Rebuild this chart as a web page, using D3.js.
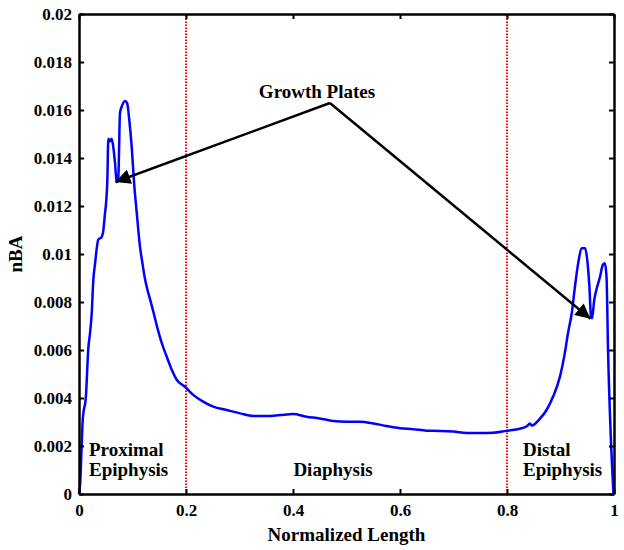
<!DOCTYPE html>
<html>
<head>
<meta charset="utf-8">
<script src="https://cdn.jsdelivr.net/npm/d3@7"></script>
<style>
  body { margin: 0; background: #fff; }
  svg { display: block; }
  text { font-family: "Liberation Serif", "Times New Roman", serif; font-weight: bold; fill: #000; }
</style>
</head>
<body>
<svg id="chart" width="624" height="550"></svg>
<script>
// ---- data ----
const xValues = [0, 0.002, 0.007, 0.013, 0.0175, 0.0206, 0.0237, 0.0267, 0.030, 0.033, 0.036, 0.042, 0.045, 0.0486, 0.0505, 0.053, 0.0548, 0.058, 0.061, 0.064, 0.0673, 0.0704, 0.0735, 0.0766, 0.0798, 0.086, 0.090, 0.094, 0.0985, 0.103, 0.108, 0.114, 0.118, 0.123, 0.128, 0.133, 0.140, 0.148, 0.156, 0.164, 0.173, 0.183, 0.198, 0.214, 0.232, 0.251, 0.276, 0.301, 0.326, 0.351, 0.376, 0.400, 0.425, 0.450, 0.475, 0.500, 0.525, 0.550, 0.575, 0.600, 0.625, 0.650, 0.675, 0.700, 0.725, 0.750, 0.774, 0.799, 0.824, 0.837, 0.843, 0.846, 0.862, 0.874, 0.886, 0.899, 0.908, 0.914, 0.921, 0.927, 0.933, 0.940, 0.946, 0.950, 0.954, 0.957, 0.959, 0.963, 0.967, 0.974, 0.979, 0.983, 0.986, 0.989, 0.994, 0.999];
const nbaValues = [0, 0.0004, 0.0031, 0.0041, 0.0061, 0.0067, 0.0075, 0.0089, 0.0096, 0.0102, 0.0106, 0.0107, 0.0109, 0.0117, 0.0121, 0.0131, 0.0148, 0.0147, 0.0148, 0.01447, 0.0138, 0.0130, 0.0132, 0.01587, 0.01614, 0.01638, 0.01628, 0.01558, 0.01447, 0.01295, 0.0117, 0.0103, 0.0097, 0.0090, 0.0085, 0.0081, 0.0075, 0.0068, 0.0062, 0.00572, 0.0052, 0.00475, 0.00447, 0.00412, 0.00385, 0.00364, 0.0035, 0.00336, 0.00325, 0.00325, 0.00329, 0.00333, 0.00322, 0.00315, 0.00304, 0.00301, 0.00301, 0.00294, 0.00283, 0.00274, 0.0027, 0.00264, 0.00263, 0.0026, 0.00254, 0.00254, 0.00255, 0.00263, 0.00272, 0.00282, 0.00294, 0.00285, 0.00315, 0.0035, 0.00405, 0.00489, 0.00586, 0.0067, 0.00753, 0.00864, 0.00961, 0.01024, 0.01024, 0.00975, 0.00864, 0.00739, 0.00732, 0.00808, 0.0085, 0.00906, 0.00954, 0.00961, 0.00906, 0.00586, 0.00239, 0.00003];
const xTicks = [0, 0.2, 0.4, 0.6, 0.8, 1];
const yTicks = [0, 0.002, 0.004, 0.006, 0.008, 0.01, 0.012, 0.014, 0.016, 0.018, 0.02];
const regionBounds = [0.2, 0.8];
const arrowFrom = [0.469, 0.01629];
const arrowTargets = [[0.068, 0.0130], [0.956, 0.0073]];

// ---- layout ----
const svg = d3.select("#chart");
const m = { left: 79, right: 10, top: 14, bottom: 56 };
const W = 624, H = 550;
const x = d3.scaleLinear().domain([0, 1]).range([m.left, W - m.right]);
const y = d3.scaleLinear().domain([0, 0.02]).range([H - m.bottom, m.top]);

const fmt = d => d === 0 ? "0" : String(+d.toFixed(4));

// red dotted region boundaries
svg.selectAll(".bound").data(regionBounds).enter().append("line")
  .attr("x1", d => x(d)).attr("x2", d => x(d))
  .attr("y1", y(0)).attr("y2", y(0.02))
  .attr("stroke", "#ff0000").attr("stroke-width", 2)
  .attr("stroke-dasharray", "1.5,1.5");

// curve
const pts = xValues.map((v, i) => [v, nbaValues[i]]);
svg.append("path").datum(pts)
  .attr("fill", "none").attr("stroke", "#0000ff").attr("stroke-width", 2.5)
  .attr("stroke-linejoin", "round")
  .attr("d", d3.line().x(d => x(d[0])).y(d => y(d[1])).curve(d3.curveMonotoneX));

// axes (box with inward ticks)
const axB = svg.append("g").attr("transform", `translate(0,${y(0)})`)
  .call(d3.axisBottom(x).tickValues(xTicks).tickFormat(fmt).tickSizeInner(-5).tickSizeOuter(0).tickPadding(10));
const axT = svg.append("g").attr("transform", `translate(0,${y(0.02)})`)
  .call(d3.axisTop(x).tickValues(xTicks).tickFormat("").tickSizeInner(-5).tickSizeOuter(0));
const axL = svg.append("g").attr("transform", `translate(${x(0)},0)`)
  .call(d3.axisLeft(y).tickValues(yTicks).tickFormat(fmt).tickSizeInner(-5).tickSizeOuter(0).tickPadding(7));
const axR = svg.append("g").attr("transform", `translate(${x(1)},0)`)
  .call(d3.axisRight(y).tickValues(yTicks).tickFormat("").tickSizeInner(-5).tickSizeOuter(0));
[axB, axT, axL, axR].forEach(g => {
  g.select(".domain").attr("stroke", "#000").attr("stroke-width", 2.5);
  g.selectAll(".tick line").attr("stroke", "#000").attr("stroke-width", 2);
  g.selectAll("text").attr("font-size", 17).attr("font-family", "Liberation Serif, serif").attr("font-weight", "bold").attr("fill", "#000");
});

// axis titles
svg.append("text").attr("x", (x(0) + x(1)) / 2).attr("y", 541)
  .attr("text-anchor", "middle").attr("font-size", 19).text("Normalized Length");
svg.append("text").attr("transform", `translate(22,${y(0.01)}) rotate(-90)`)
  .attr("text-anchor", "middle").attr("font-size", 19).text("nBA");

// region labels
const lab = (tx, ty, s, anchor) => svg.append("text").attr("x", tx).attr("y", ty)
  .attr("text-anchor", anchor || "start").attr("font-size", 19).text(s);
lab(89, 456, "Proximal");
lab(89, 476, "Epiphysis");
lab(333, 476, "Diaphysis", "middle");
lab(523, 456, "Distal");
lab(523, 476, "Epiphysis");

// annotation arrows
svg.append("defs").append("marker").attr("id", "ah")
  .attr("viewBox", "0 0 10 10").attr("refX", 10).attr("refY", 5)
  .attr("markerWidth", 7.5).attr("markerHeight", 6).attr("markerUnits", "strokeWidth")
  .attr("orient", "auto")
  .append("path").attr("d", "M0,0 L10,5 L0,10 Z").attr("fill", "#000");
svg.selectAll(".arr").data(arrowTargets).enter().append("line")
  .attr("x1", x(arrowFrom[0])).attr("y1", y(arrowFrom[1]))
  .attr("x2", d => x(d[0])).attr("y2", d => y(d[1]))
  .attr("stroke", "#000").attr("stroke-width", 2.5)
  .attr("marker-end", "url(#ah)");
svg.append("text").attr("x", 317).attr("y", 98).attr("text-anchor", "middle")
  .attr("font-size", 19).text("Growth Plates");
</script>
</body>
</html>
